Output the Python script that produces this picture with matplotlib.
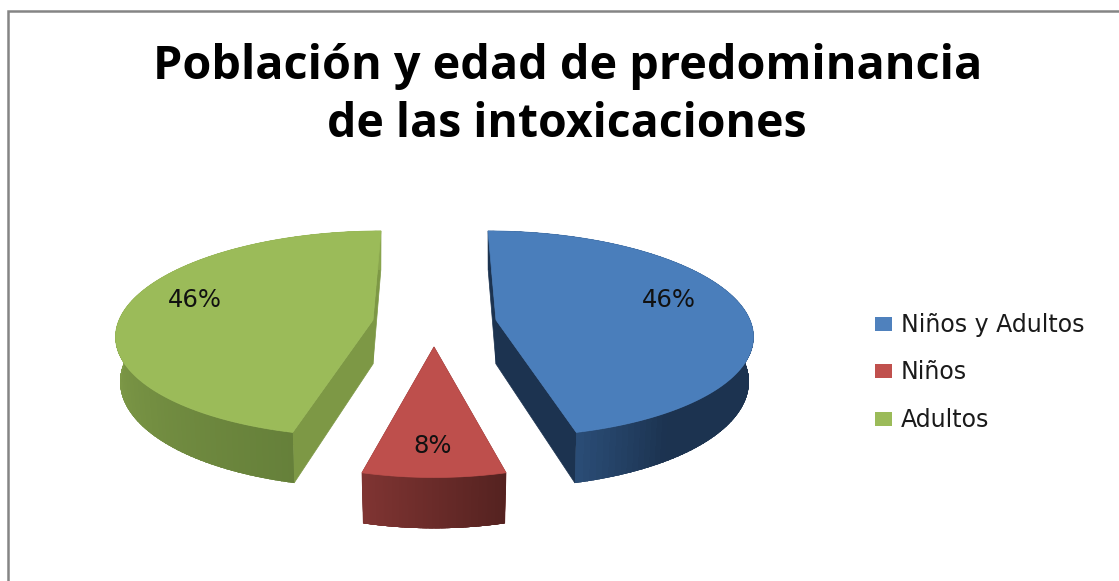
import numpy as np
import matplotlib
matplotlib.use("Agg")
import matplotlib.pyplot as plt
from matplotlib.collections import PolyCollection
from matplotlib.colors import to_rgb
from matplotlib.patches import Polygon, Rectangle

# Chart data
title_lines = ["Población y edad de predominancia", "de las intoxicaciones"]
categories = ["Niños y Adultos", "Niños", "Adultos"]
shares = [46, 8, 46]

# Look of each slice, all in picture pixels
top_colors = ["#4A7EBB", "#BE4F4C", "#9BBB59"]
legend_colors = ["#4F81BD", "#C0504D", "#9BBB59"]
centers = [(496, 320), (434, 347), (373, 320)]
radii = [(254, 101), (252, 113), (254, 101)]
shears = [8, 0, -8]
cut_colors = ["#1C3350", "#7A3230", "#7D9845"]
arc_stops = [
    [(0.0, "#2A4C75"), (0.12, "#1C3350"), (1.0, "#1C3350")],
    [(0.0, "#542220"), (1.0, "#7F3432")],
    [(0.0, "#66803A"), (0.55, "#86A24C"), (1.0, "#8AA64E")],
]
label_spots = [(669, 307), (433, 453), (195, 307)]
legend_rows = [332, 379, 427]

TITLE_FONT = "Open Sans"
BODY_FONT = "DejaVu Sans"
DEPTH = 44
PERSPECTIVE = 0.134
BOTTOM_SHRINK = 0.018


# Turn an angle on the pie (clockwise from the back) into a picture position
def project(theta, r, level, center, radius, shear):
    x = r * np.sin(theta)
    y = -r * np.cos(theta)
    w = 1 - PERSPECTIVE * y
    sx = center[0] + (radius[0] * x / w + shear * y) * (1 - BOTTOM_SHRINK * level)
    sy = center[1] + (radius[1] * y + DEPTH * level) / w
    return np.column_stack([sx, sy])


def stop_color(stops, t):
    pos = [s[0] for s in stops]
    rgb = np.array([to_rgb(s[1]) for s in stops])
    return [np.interp(t, pos, rgb[:, i]) for i in range(3)]


def draw_slice(ax, start, end, i):
    center, radius, shear = centers[i], radii[i], shears[i]
    thetas = np.linspace(start, end, 121)
    top = project(thetas, 1, 0, center, radius, shear)
    bottom = project(thetas, 1, 1, center, radius, shear)

    # the two cut faces
    for theta in (start, end):
        a = project(np.array([theta]), 1, 0, center, radius, shear)[0]
        b = project(np.array([theta]), 1, 1, center, radius, shear)[0]
        c0 = project(np.array([theta]), 0, 0, center, radius, shear)[0]
        c1 = project(np.array([theta]), 0, 1, center, radius, shear)[0]
        ax.add_patch(Polygon([c0, a, b, c1], closed=True, fc=cut_colors[i], ec=cut_colors[i], lw=0.5, zorder=2))

    # outer wall, shaded along the arc
    quads = []
    colors = []
    for j in range(len(thetas) - 1):
        quads.append([top[j], top[j + 1], bottom[j + 1], bottom[j]])
        colors.append(stop_color(arc_stops[i], j / (len(thetas) - 2)))
    # blue is listed from the tip, its angles run towards the tip
    if i == 0:
        colors = colors[::-1]
    wall = Polygon(np.vstack([top, bottom[::-1]]), closed=True, fc=colors[len(colors) // 2], ec="none", zorder=3)
    ax.add_patch(wall)
    shade = PolyCollection(quads, facecolors=colors, edgecolors=colors, linewidths=1, antialiaseds=False, zorder=3)
    ax.add_collection(shade)
    shade.set_clip_path(wall)

    # top face
    apex = project(np.array([start]), 0, 0, center, radius, shear)
    ax.add_patch(Polygon(np.vstack([apex, top]), closed=True, fc=top_colors[i], ec=top_colors[i], lw=0.5, zorder=4))


fig = plt.figure(figsize=(11.19, 5.81), dpi=100)
ax = fig.add_axes([0, 0, 1, 1])
ax.set_xlim(0, 1119)
ax.set_ylim(581, 0)
ax.axis("off")

# Chart frame, cut off at the right and bottom of the picture
ax.plot([8, 8, 1119], [581, 11, 11], color="#858585", lw=1.8, solid_joinstyle="miter")

ax.text(567.5, 79, title_lines[0], family=TITLE_FONT, fontweight="bold", fontsize=33.7, ha="center", va="baseline", color="black")
ax.text(567, 137, title_lines[1], family=TITLE_FONT, fontweight="bold", fontsize=33.4, ha="center", va="baseline", color="black")

# Slices start at the back of the pie and go clockwise
edges = np.cumsum([0] + shares) / sum(shares) * 2 * np.pi
for i in range(len(shares)):
    draw_slice(ax, edges[i], edges[i + 1], i)
    ax.text(label_spots[i][0], label_spots[i][1], f"{shares[i]}%", family=BODY_FONT, fontsize=17.5, ha="center", va="baseline", color="#111111", zorder=6)

# Legend
for i, name in enumerate(categories):
    ax.add_patch(Rectangle((875, legend_rows[i] - 15), 17, 14, fc=legend_colors[i], ec="none"))
    ax.text(901, legend_rows[i], name, family=BODY_FONT, fontsize=17, ha="left", va="baseline", color="#1a1a1a")

fig.savefig("out.png", dpi=100)
